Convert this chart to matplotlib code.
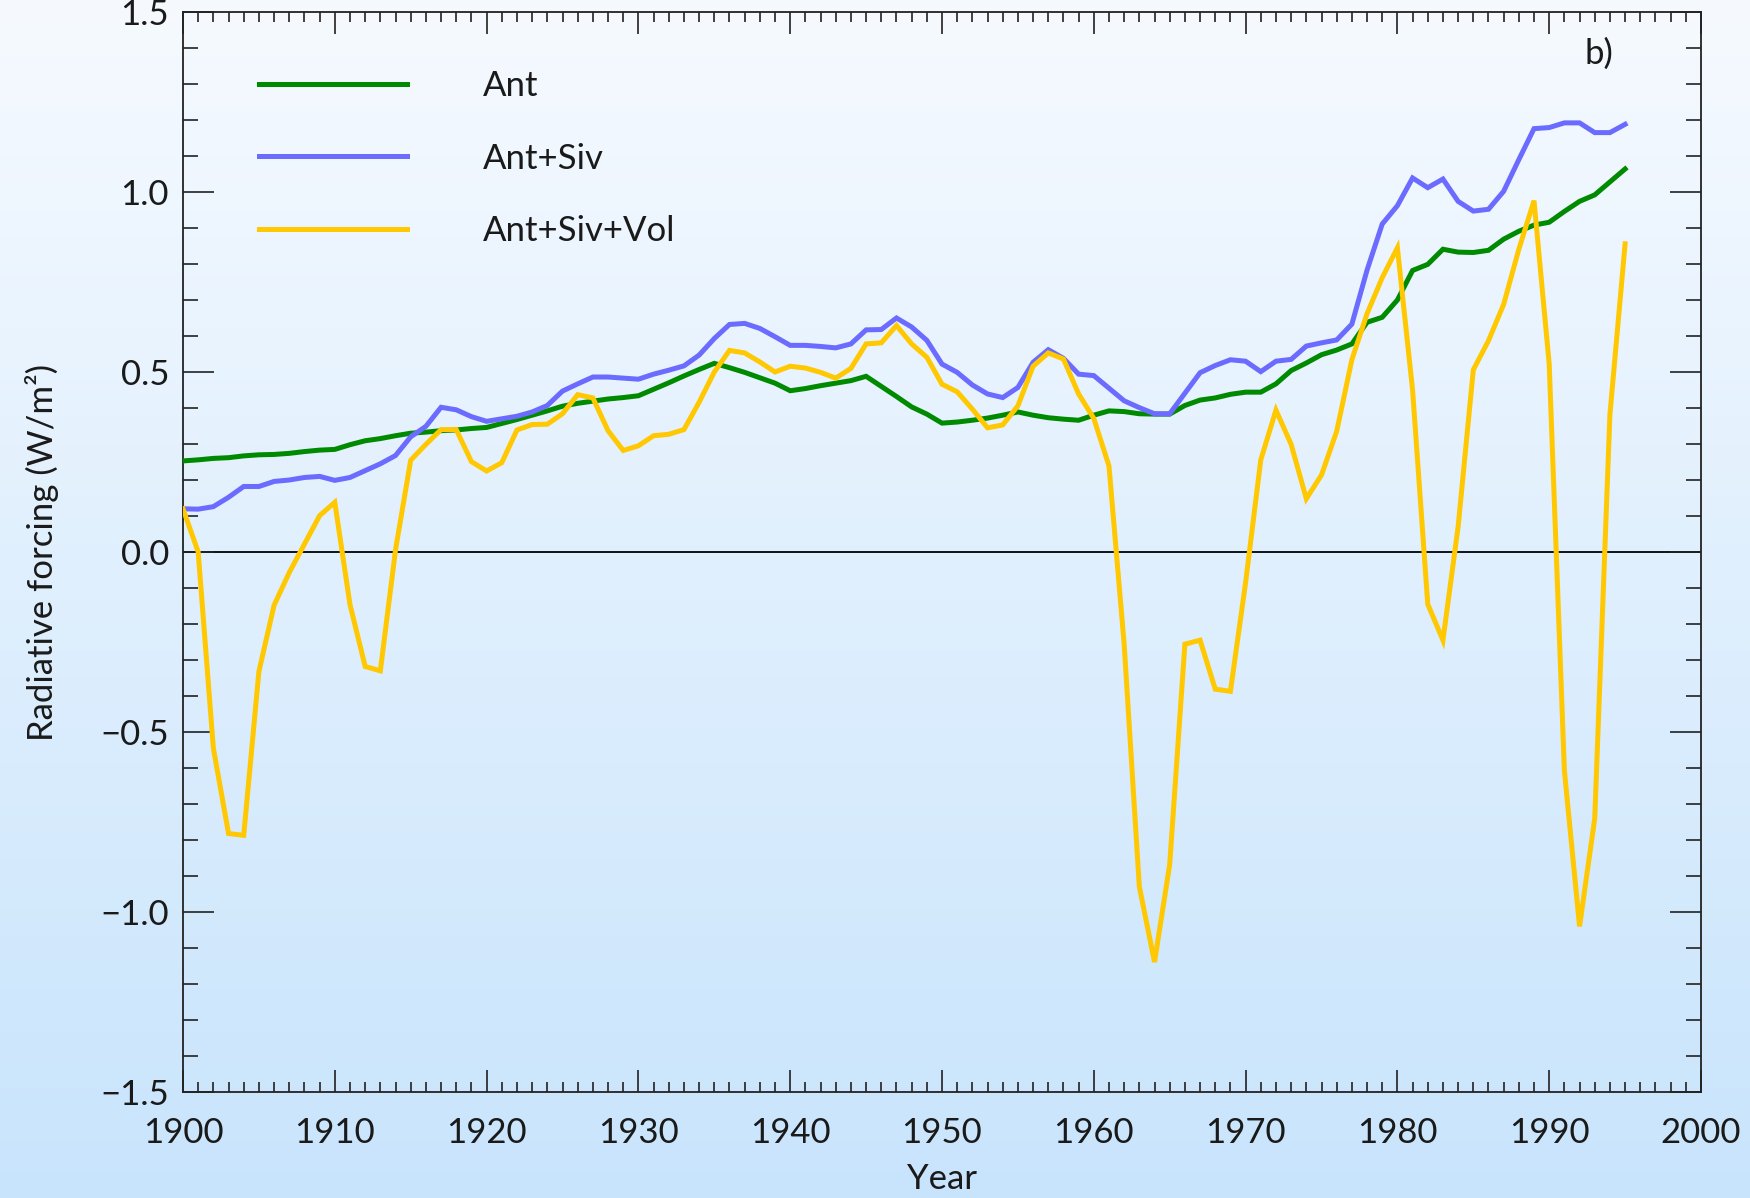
import numpy as np
import matplotlib
matplotlib.use("Agg")
import matplotlib.pyplot as plt
from matplotlib.ticker import MultipleLocator, FixedLocator
from matplotlib.lines import Line2D

plt.rcParams['font.family'] = ['Lato', 'DejaVu Sans']
plt.rcParams['axes.unicode_minus'] = True

years = np.arange(1900, 1996)

ant = [
    0.253, 0.256, 0.260, 0.262, 0.267, 0.270, 0.271, 0.274, 0.279, 0.283,
    0.285, 0.298, 0.309, 0.315, 0.323, 0.330, 0.333, 0.337, 0.339, 0.343,
    0.346, 0.357, 0.368, 0.380, 0.392, 0.405, 0.413, 0.419, 0.425, 0.429,
    0.434, 0.452, 0.470, 0.489, 0.507, 0.524, 0.512, 0.499, 0.484, 0.469,
    0.448, 0.454, 0.462, 0.469, 0.476, 0.488, 0.460, 0.432, 0.403, 0.383,
    0.358, 0.361, 0.366, 0.372, 0.380, 0.389, 0.380, 0.373, 0.369, 0.366,
    0.380, 0.392, 0.390, 0.384, 0.383, 0.383, 0.407, 0.422, 0.428, 0.438,
    0.444, 0.444, 0.467, 0.504, 0.525, 0.548, 0.561, 0.578, 0.638, 0.652,
    0.700, 0.782, 0.799, 0.841, 0.833, 0.832, 0.838, 0.869, 0.891, 0.908,
    0.916, 0.946, 0.974, 0.992, 1.028, 1.064,
]

ant_siv = [
    0.120, 0.119, 0.126, 0.152, 0.182, 0.182, 0.196, 0.200, 0.207, 0.210,
    0.199, 0.207, 0.226, 0.245, 0.268, 0.320, 0.349, 0.402, 0.395, 0.376,
    0.363, 0.370, 0.377, 0.389, 0.407, 0.447, 0.467, 0.486, 0.486, 0.483,
    0.480, 0.494, 0.505, 0.517, 0.547, 0.593, 0.632, 0.635, 0.621, 0.598,
    0.574, 0.574, 0.571, 0.567, 0.578, 0.617, 0.618, 0.650, 0.625, 0.588,
    0.522, 0.499, 0.464, 0.439, 0.429, 0.457, 0.527, 0.562, 0.538, 0.494,
    0.490, 0.455, 0.420, 0.401, 0.384, 0.384, 0.441, 0.498, 0.518, 0.534,
    0.530, 0.501, 0.530, 0.535, 0.572, 0.581, 0.589, 0.633, 0.783, 0.911,
    0.962, 1.039, 1.012, 1.036, 0.974, 0.947, 0.952, 1.002, 1.090, 1.176,
    1.179, 1.192, 1.192, 1.165, 1.165, 1.188,
]

ant_siv_vol = [
    0.120, 0.000, -0.545, -0.782, -0.787, -0.332, -0.148, -0.057, 0.022, 0.101,
    0.138, -0.146, -0.318, -0.330, 0.006, 0.255, 0.299, 0.340, 0.340, 0.251,
    0.225, 0.248, 0.339, 0.354, 0.355, 0.384, 0.437, 0.428, 0.337, 0.282,
    0.295, 0.323, 0.327, 0.340, 0.416, 0.500, 0.560, 0.553, 0.528, 0.500,
    0.516, 0.511, 0.499, 0.483, 0.510, 0.578, 0.581, 0.629, 0.578, 0.541,
    0.466, 0.445, 0.397, 0.345, 0.353, 0.406, 0.516, 0.553, 0.536, 0.439,
    0.371, 0.239, -0.256, -0.930, -1.139, -0.868, -0.256, -0.245, -0.381, -0.387,
    -0.085, 0.256, 0.394, 0.299, 0.148, 0.214, 0.335, 0.534, 0.662, 0.762,
    0.845, 0.450, -0.145, -0.245, 0.070, 0.506, 0.587, 0.688, 0.841, 0.976,
    0.522, -0.607, -1.040, -0.740, 0.382, 0.856,
]

series_labels = ["Ant", "Ant+Siv", "Ant+Siv+Vol"]
series_colors = ["#008a00", "#6b6bff", "#ffc800"]

x_ticks = [1900, 1910, 1920, 1930, 1940, 1950, 1960, 1970, 1980, 1990, 2000]
y_ticks = [-1.5, -1.0, -0.5, 0.0, 0.5, 1.0, 1.5]

TEXT = '#1a1a1a'
FS = 25
LW = 3.6

W, H = 1750, 1198
fig = plt.figure(figsize=(W / 100, H / 100), dpi=100)

# vertical background gradient over the whole figure
bg = fig.add_axes([0, 0, 1, 1], zorder=-10)
top_rgb = np.array([246, 250, 255]) / 255.0
bot_rgb = np.array([200, 228, 252]) / 255.0
t = np.linspace(0, 1, 256)[:, None]
grad = (top_rgb[None, :] * (1 - t) + bot_rgb[None, :] * t)[:, None, :]
bg.imshow(grad, aspect='auto', extent=[0, 1, 0, 1], interpolation='bicubic')
bg.set_axis_off()

ax = fig.add_axes([183 / W, 1 - 1092 / H, (1701 - 183) / W, (1092 - 12) / H])
ax.patch.set_alpha(0)

ax.axhline(0.0, color='black', lw=1.3, zorder=1)

series = [ant, ant_siv, ant_siv_vol]
for vals, col, lab in zip(series, series_colors, series_labels):
    ax.plot(years, vals, color=col, lw=LW, label=lab, zorder=3,
            solid_joinstyle='miter')

ax.set_xlim(1900, 2000)
ax.set_ylim(-1.5, 1.5)

ax.xaxis.set_major_locator(FixedLocator(x_ticks))
ax.xaxis.set_minor_locator(MultipleLocator(1))
ax.yaxis.set_major_locator(FixedLocator(y_ticks))
ax.yaxis.set_minor_locator(MultipleLocator(0.1))
ax.set_yticklabels([f"{v:.1f}".replace("-", "\u2212") for v in y_ticks])

ax.tick_params(axis='both', which='both', direction='in', top=True, right=True,
               color='#222222', width=1.2)
ax.tick_params(axis='x', which='major', length=16, pad=18)
ax.tick_params(axis='x', which='minor', length=7)
ax.tick_params(axis='y', which='major', length=22, pad=10)
ax.tick_params(axis='y', which='minor', length=11)
for lbl in ax.get_xticklabels() + ax.get_yticklabels():
    lbl.set_fontsize(FS)
    lbl.set_color(TEXT)

for sp in ax.spines.values():
    sp.set_linewidth(1.3)
    sp.set_color('#222222')

ax.set_xlabel("Year", fontsize=FS, color=TEXT, labelpad=10)
ax.set_ylabel("Radiative forcing (W/m\u00b2)", fontsize=FS, color=TEXT)
ax.yaxis.set_label_coords(-0.082, 0.5)

handles = [Line2D([], [], color=c, lw=LW) for c in series_colors]
leg = ax.legend(handles, series_labels, loc='upper left',
                bbox_to_anchor=(76 / 1518, 1 - 58 / 1080), frameon=False,
                fontsize=FS, handlelength=4.25, handletextpad=2.2,
                labelspacing=1.17, borderpad=0, borderaxespad=0)
for txt in leg.get_texts():
    txt.set_color(TEXT)

ax.text(0.942, 0.961, "b)", transform=ax.transAxes, fontsize=FS,
        color=TEXT, ha='right', va='center')

fig.savefig("out.png", dpi=100)
